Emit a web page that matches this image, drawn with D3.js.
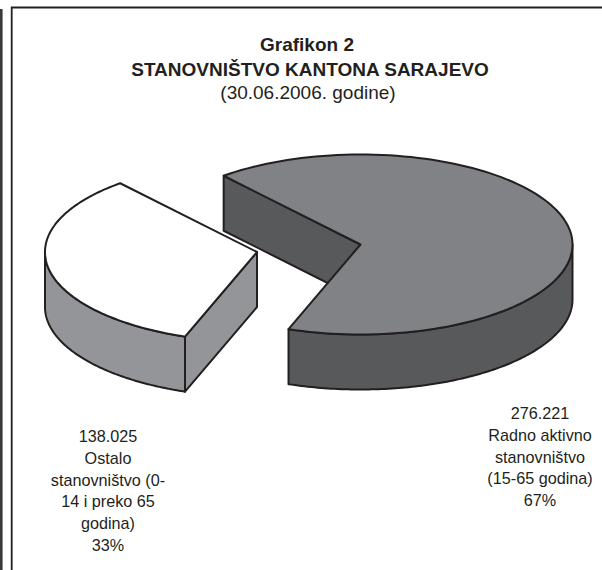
<!DOCTYPE html>
<html>
<head>
<meta charset="utf-8">
<script src="https://cdnjs.cloudflare.com/ajax/libs/d3/7.8.5/d3.min.js"></script>
<style>
  html, body { margin: 0; padding: 0; background: #fff; }
  svg { display: block; }
  text { font-family: "Liberation Sans", Arial, sans-serif; fill: #231f20; }
</style>
</head>
<body>
<div id="chart"></div>
<script>
var titleLines = ["Grafikon 2", "STANOVNIŠTVO KANTONA SARAJEVO", "(30.06.2006. godine)"];
var sliceNames = ["radno", "ostalo"];
var sliceValues = [276221, 138025];
var sliceLabels = [
  ["276.221", "Radno aktivno", "stanovništvo", "(15-65 godina)", "67%"],
  ["138.025", "Ostalo", "stanovništvo (0-", "14 i preko 65", "godina)", "33%"]
];

var width = 602, height = 570;
var rx = 212, ry = 90, depth = 55;
var stroke = "#231f20";

// exploded pie, each slice has its own centre
var centers = { radno: [360.5, 244.5], ostalo: [257, 252] };
var topColor = { radno: "#808285", ostalo: "#ffffff" };
var sideColor = { radno: "#58595b", ostalo: "#939598" };
var labelPos = { radno: [540, 419], ostalo: [108, 442] };

var svg = d3.select("#chart").append("svg")
  .attr("width", width)
  .attr("height", height);

// frame
var frame = svg.append("g").attr("fill", "none").attr("stroke", stroke);
frame.append("path").attr("d", "M1.3,9V570").attr("stroke-width", 2.6).attr("stroke", "#3a3a3c");
frame.append("path").attr("d", "M11.7,570V7.5H602").attr("stroke-width", 1.8);

var pie = d3.pie().sort(null).startAngle(-40.2 * Math.PI / 180).endAngle(319.8 * Math.PI / 180);
var slices = pie(sliceValues);

var point = function (c, a, dy) {
  return [c[0] + rx * Math.sin(a), c[1] - ry * Math.cos(a) + (dy || 0)];
};
var arcPoints = function (c, a0, a1, dy) {
  return d3.range(0, 121).map(function (i) {
    return point(c, a0 + (a1 - a0) * i / 120, dy);
  });
};
var line = d3.line();

var drawSlice = function (d, i) {
  var name = sliceNames[i];
  var c = centers[name];
  var g = svg.append("g").attr("stroke", stroke).attr("stroke-width", 2).attr("stroke-linejoin", "round");

  // cut wall at the start angle, the one at the end angle faces away
  var edge = point(c, d.startAngle);
  g.append("path")
    .attr("fill", sideColor[name])
    .attr("d", line([c, edge, [edge[0], edge[1] + depth], [c[0], c[1] + depth]]) + "Z");

  // outer rim, front half of the ellipse
  var a0 = Math.max(d.startAngle, Math.PI / 2);
  var a1 = Math.min(d.endAngle, 3 * Math.PI / 2);
  var upper = arcPoints(c, a0, a1, 0);
  var lower = arcPoints(c, a1, a0, depth);
  g.append("path")
    .attr("fill", sideColor[name])
    .attr("d", line(upper.concat(lower)) + "Z");

  // top face
  g.append("path")
    .attr("fill", topColor[name])
    .attr("d", line([c].concat(arcPoints(c, d.startAngle, d.endAngle, 0))) + "Z");
};

slices.forEach(drawSlice);

// title
var title = svg.append("g").attr("text-anchor", "middle").attr("font-size", 19);
title.append("text").attr("x", 307).attr("y", 51).attr("font-weight", "bold").text(titleLines[0]);
title.append("text").attr("x", 310).attr("y", 76).attr("font-weight", "bold").text(titleLines[1]);
title.append("text").attr("x", 308).attr("y", 99).text(titleLines[2]);

// slice labels
sliceLabels.forEach(function (rows, i) {
  var pos = labelPos[sliceNames[i]];
  svg.append("g").attr("text-anchor", "middle").selectAll("text")
    .data(rows)
    .enter().append("text")
    .attr("x", pos[0])
    .attr("y", function (t, j) { return pos[1] + j * 21.8; })
    .attr("font-size", 16.2)
    .text(function (t) { return t; });
});
</script>
</body>
</html>
